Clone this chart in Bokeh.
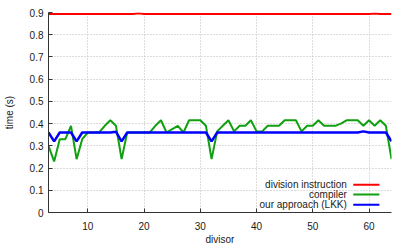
from bokeh.plotting import figure
from bokeh.models import Range1d, FixedTicker, Label
from bokeh.embed import file_html
from bokeh.resources import INLINE

# ---- data ----
divisor = list(range(3, 65))

division_instruction = [0.893] * 62
division_instruction[19 - 3] = 0.897
division_instruction[61 - 3] = 0.896

compiler = [
    0.30, 0.23, 0.33, 0.33, 0.39, 0.24, 0.33, 0.36, 0.36, 0.36,   # 3-12
    0.39, 0.415, 0.39, 0.24, 0.36, 0.36, 0.36, 0.36, 0.36, 0.39,  # 13-22
    0.415, 0.36, 0.375, 0.39, 0.36, 0.415, 0.415, 0.415, 0.39, 0.24,  # 23-32
    0.365, 0.39, 0.415, 0.365, 0.39, 0.39, 0.415, 0.365, 0.365, 0.39,  # 33-42
    0.39, 0.39, 0.415, 0.415, 0.415, 0.365, 0.39, 0.39, 0.415, 0.39,  # 43-52
    0.39, 0.39, 0.40, 0.415, 0.415, 0.415, 0.39, 0.415, 0.39, 0.415,  # 53-62
    0.39, 0.24,  # 63-64
]

our_approach = [
    0.36, 0.32, 0.36, 0.36, 0.36, 0.32, 0.36, 0.36, 0.36, 0.36,   # 3-12
    0.36, 0.36, 0.363, 0.32, 0.36, 0.36, 0.36, 0.36, 0.36, 0.36,  # 13-22
    0.36, 0.36, 0.36, 0.36, 0.36, 0.36, 0.36, 0.36, 0.36, 0.32,   # 23-32
    0.36, 0.36, 0.36, 0.36, 0.36, 0.36, 0.36, 0.36, 0.36, 0.36,   # 33-42
    0.36, 0.36, 0.36, 0.36, 0.36, 0.36, 0.36, 0.36, 0.36, 0.36,   # 43-52
    0.36, 0.36, 0.36, 0.36, 0.36, 0.36, 0.365, 0.36, 0.36, 0.36,  # 53-62
    0.36, 0.32,  # 63-64
]

x_ticks = [10, 20, 30, 40, 50, 60]
y_ticks = [0, 0.1, 0.2, 0.3, 0.4, 0.5, 0.6, 0.7, 0.8, 0.9]
series_names = ["division instruction", "compiler", "our approach (LKK)"]
series_colors = ["#ff0000", "#10a010", "#0000ff"]

FONT = "Liberation Sans"
TXT = "#1a1a1a"

p = figure(
    frame_width=343, frame_height=200,
    min_border_left=47, min_border_right=17,
    min_border_top=12, min_border_bottom=32,
    x_range=Range1d(3, 64), y_range=Range1d(0, 0.9),
    output_backend="svg", toolbar_location=None,
)
p.outline_line_color = None
p.background_fill_color = "white"
p.border_fill_color = "white"

for ax in (p.xaxis[0], p.yaxis[0]):
    ax.axis_line_color = "#333333"
    ax.major_tick_line_color = "#333333"
    ax.major_tick_in = 4
    ax.major_tick_out = 0
    ax.minor_tick_line_color = None
    ax.major_label_text_font = FONT
    ax.major_label_text_font_size = "10px"
    ax.major_label_text_color = TXT
    ax.axis_label_text_font = FONT
    ax.axis_label_text_font_size = "10px"
    ax.axis_label_text_font_style = "normal"
    ax.axis_label_text_color = TXT

p.xaxis.ticker = FixedTicker(ticks=x_ticks)
p.yaxis.ticker = FixedTicker(ticks=y_ticks)
p.yaxis.major_label_overrides = {0: "0"}
p.xaxis.axis_label = "divisor"
p.yaxis.axis_label = "time (s)"
p.xaxis.major_label_standoff = 9
p.xaxis.axis_label_standoff = 1
p.yaxis.major_label_standoff = 5
p.yaxis.axis_label_standoff = 12

for g in (p.xgrid[0], p.ygrid[0]):
    g.grid_line_color = "#bbbbbb"
    g.grid_line_dash = "1 2"
    g.grid_line_width = 1

p.line(divisor, division_instruction, color=series_colors[0], line_width=2)
p.line(divisor, compiler, color=series_colors[1], line_width=2)
p.line(divisor, our_approach, color=series_colors[2], line_width=2.5)

# legend (bottom right, text right-aligned, sample on the right)
leg_text_x = 56.05
leg_s0, leg_s1 = 57.2, 61.85
leg_rows = [0.1247, 0.081, 0.0347]
for name, col, yy in zip(series_names, series_colors, leg_rows):
    p.add_layout(Label(x=leg_text_x, y=yy, text=name, text_align="right",
                       text_baseline="middle", text_font=FONT,
                       text_font_size="10px", text_color=TXT))
    p.segment(x0=[leg_s0], y0=[yy], x1=[leg_s1], y1=[yy], color=col, line_width=2)

open("out.html", "w").write(file_html(p, INLINE))
